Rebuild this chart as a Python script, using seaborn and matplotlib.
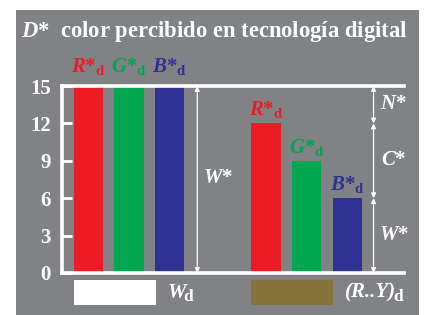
import numpy as np
import pandas as pd
import matplotlib
matplotlib.use("Agg")
import matplotlib.pyplot as plt
import seaborn as sns
from matplotlib.patches import Rectangle

# data
canales = ["R", "G", "B"]
grupos = ["W", "(R..Y)"]
valores_blanco = [15, 15, 15]
valores_color = [12, 9, 6]
colores = ["#ED1C24", "#00A650", "#2E3192"]
color_muestra = ["#FFFFFF", "#857339"]
yticks = [0, 3, 6, 9, 12, 15]

gris = "#808285"
gap = 4.37  # distancia entre los dos grupos

sns.set_theme(style="white")
plt.rcParams["font.family"] = ["Liberation Serif", "DejaVu Serif"]
plt.rcParams["mathtext.fontset"] = "custom"
plt.rcParams["mathtext.rm"] = "Liberation Serif:bold"
plt.rcParams["mathtext.it"] = "Liberation Serif:bold:italic"
plt.rcParams["mathtext.bf"] = "Liberation Serif:bold"

df = pd.DataFrame({
    "canal": canales * 2,
    "grupo": [grupos[0]] * 3 + [grupos[1]] * 3,
    "valor": valores_blanco + valores_color,
})
df["pos"] = [i + g * gap for g in range(2) for i in range(3)]

fig = plt.figure(figsize=(4.24, 3.15), dpi=100, facecolor="white")
fig.patches.append(Rectangle((16 / 424, 0), (419 - 16) / 424, (315 - 10) / 315,
                             transform=fig.transFigure, facecolor=gris,
                             edgecolor="none", zorder=-10))

ax = fig.add_axes([62 / 424, (315 - 273) / 315, (404 - 62) / 424, (273 - 86) / 315])
ax.set_facecolor("none")

sns.barplot(data=df, x="pos", y="valor", hue="canal", palette=colores,
            native_scale=True, width=0.72, dodge=False, legend=False,
            saturation=1, linewidth=0, ax=ax)

ax.set_xlim(-0.65, 7.77)
ax.set_ylim(0, 15)
ax.set_xlabel("")
ax.set_ylabel("")
ax.set_xticks([])
ax.set_yticks(yticks)
ax.tick_params(axis="y", direction="in", length=7, width=2, color="white",
               labelcolor="white", labelsize=15, pad=8, left=True)
for lab in ax.get_yticklabels():
    lab.set_fontweight("bold")
for s in ["left", "top", "bottom"]:
    ax.spines[s].set_color("white")
    ax.spines[s].set_linewidth(2.6)
ax.spines["right"].set_visible(False)

# etiquetas de barras
for _, r in df.iterrows():
    c = colores[canales.index(r["canal"])]
    lbl = r"$%s{*}_{\mathrm{d}}$" % r["canal"]
    if r["grupo"] == grupos[0]:
        ax.text(r["pos"], 15.7, lbl, color=c, ha="center", va="bottom",
                fontsize=15, clip_on=False)
    else:
        ax.text(r["pos"], r["valor"] + 0.25, lbl, color=c, ha="center",
                va="bottom", fontsize=15)

# flechas
flecha = dict(arrowstyle="<|-|>", color="white", lw=0.9, mutation_scale=7,
              shrinkA=0, shrinkB=0)
xa = 2.68
ax.annotate("", xy=(xa, 0), xytext=(xa, max(valores_blanco)), arrowprops=flecha)
ax.text(xa + 0.52, 7.6, r"$W{*}$", color="white", ha="center", va="center", fontsize=15)

xb = 7.02
tramos = [(max(valores_blanco), max(valores_color), "N"),
          (max(valores_color), min(valores_color), "C"),
          (min(valores_color), 0, "W")]
for y0, y1, t in tramos:
    ax.annotate("", xy=(xb, y1), xytext=(xb, y0), arrowprops=flecha, annotation_clip=False)
    ax.text(xb + 0.5, (y0 + y1) / 2, "$%s{*}$" % t, color="white", ha="center",
            va="center", fontsize=15, clip_on=False)

# muestras
for g, nombre in enumerate(grupos):
    x0 = g * gap - 0.36
    ax.add_patch(Rectangle((x0, -0.56), 2.02, -2.0, facecolor=color_muestra[g],
                           edgecolor="none", clip_on=False))
    t = ax.text(x0 + 2.3, -1.6, nombre, color="white", ha="left", va="center",
                fontsize=15, fontweight="bold", fontstyle="italic", clip_on=False)
    ax.annotate("d", xy=(1, 0), xycoords=t, xytext=(-1.5, -1.5), textcoords="offset points",
                color="white", fontsize=12.5, fontweight="bold", ha="left",
                va="bottom", annotation_clip=False)

fig.text(21 / 424, 1 - 31 / 315,
         r"$D{*}$  color percibido en tecnología digital", color="white",
         fontsize=16.3, fontweight="bold", ha="left", va="center")

fig.savefig("out.png", dpi=100, facecolor="white")
